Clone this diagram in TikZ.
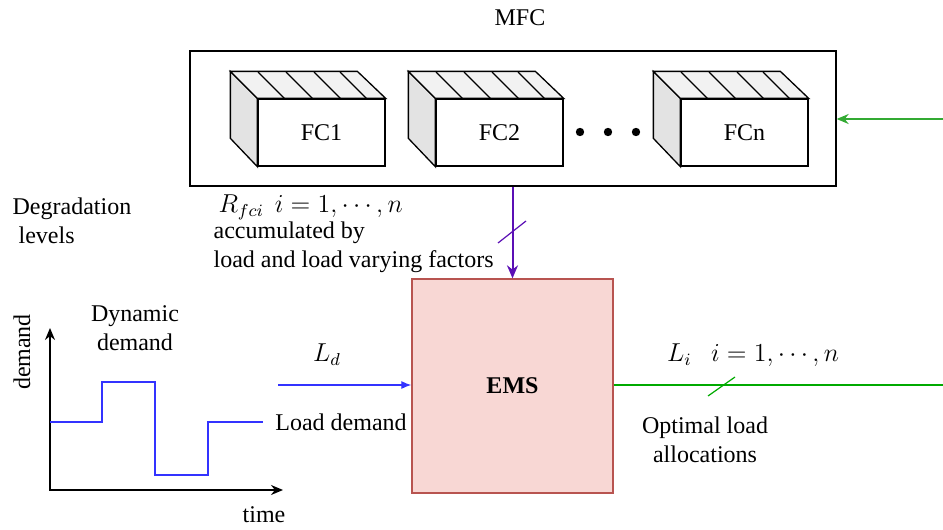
\documentclass[tikz,border=0pt]{standalone}
\usepackage{fontspec}
\setmainfont{Liberation Serif}
\usetikzlibrary{arrows.meta,fit}
\definecolor{purp}{HTML}{5B0FB5}
\definecolor{bluec}{HTML}{3333FF}
\definecolor{greenc}{HTML}{00AA00}
\definecolor{greenin}{HTML}{33AA33}
\definecolor{emsf}{HTML}{F8D7D4}
\definecolor{emsd}{HTML}{B85450}
\newcommand{\myscaledmath}[1]{\scalebox{1.08}{#1}}
\tikzset{
  txt/.style={inner sep=0pt},
  front/.style={draw, fill=white, minimum width=63.5pt, minimum height=33.5pt, inner sep=0pt},
}
\begin{document}
\begin{tikzpicture}[x=0.5pt,y=-0.5pt, font=\fontsize{12}{14.5}\selectfont, line width=0.65pt]
\useasboundingbox (0,0) rectangle (943,530);
% MFC container
\coordinate (mfcnw) at (190,51);
\coordinate (mfcse) at (836,186);
\node[draw, fit=(mfcnw)(mfcse), inner sep=0pt] (mfc) {};
\node[txt] (mfclabel) at (520,18) {MFC};
% cubes
\foreach \x/\n/\t in {258/fc1/FC1, 436/fc2/FC2, 681/fcn/FCn} {
  \node[front] (\n) at ({\x+63.5},132.5) {\t};
  \draw[fill=gray!22] (\n.north west) -- ++(-27,-27) -- ++(0,67) -- (\n.south west) -- cycle;
  \draw[fill=gray!10] (\n.north west) -- ++(-27,-27) -- ++(127,0) -- (\n.north east) -- cycle;
  \foreach \s in {27,55,83,109} {
    \draw ({\x+\s-27},72) -- ({\x+\s},99);
  }
}
\foreach \d in {580,608,636} { \fill (\d,132) circle (2.1pt); }
% EMS
\node[draw=emsd, fill=emsf, minimum width=100.5pt, minimum height=107pt, font=\fontsize{12}{14.5}\selectfont\bfseries] (ems) at (512.5,386) {EMS};
% purple arrow
\draw[purp, line width=1pt, -{Stealth[length=6.5pt,width=5.5pt]}] (mfc.south -| ems.north) -- (ems.north);
\draw[purp, line width=0.6pt] (498,243) -- (526,221);
% blue arrow
\coordinate (ldin) at (278,385);
\draw[bluec, line width=0.6pt, -{Latex[length=5pt,width=4pt]}] (ldin) -- (ldin -| ems.west);
\node[txt] (ld) at (327,355) {\myscaledmath{$L_d$}};
\node[txt] (loaddemand) at (341,422) {Load demand};
% green output
\coordinate (liout) at (943,385);
\draw[greenc, line width=0.6pt] (ems.east |- liout) -- (liout);
\draw[greenc, line width=0.6pt] (708,396) -- (735,377);
\node[txt] (li) at (753,355) {\myscaledmath{$L_i\ \ \ i=1,\cdots,n$}};
\node[txt, align=center] (optimal) at (705,440) {Optimal load\\allocations};
% green input
\coordinate (gin) at (943,119);
\draw[greenin, line width=0.8pt, -{Stealth[length=6pt,width=5pt]}] (gin) -- (gin -| mfc.east);
% degradation texts
\node[txt, align=left, anchor=west] (degr) at (12,221) {Degradation\\\ levels};
\node[txt, anchor=west] (rfci) at (218,207) {\myscaledmath{$R_{fci}~\,i=1,\cdots,n$}};
\node[txt, anchor=west] (accum) at (213,233) {accumulated by};
\node[txt, anchor=west] (loadvar) at (213,262) {load and load varying factors};
% graph
\coordinate (orig) at (50,490);
\coordinate (ytop) at (50,328);
\coordinate (xend) at (283,490);
\draw[line width=0.7pt, {Stealth[length=6pt,width=5pt]}-{Stealth[length=6pt,width=5pt]}] (ytop) -- (orig) -- (xend);
\draw[bluec, line width=0.8pt] (50,422) -| (102,382) -| (155,475) -| (208,422) -- (263,422);
\node[txt, rotate=90] (demandlbl) at (22,352) {demand};
\node[txt] (timelbl) at (264,515) {time};
\node[txt, align=center] (dyn) at (135,328) {Dynamic\\demand};
\end{tikzpicture}
\end{document}
